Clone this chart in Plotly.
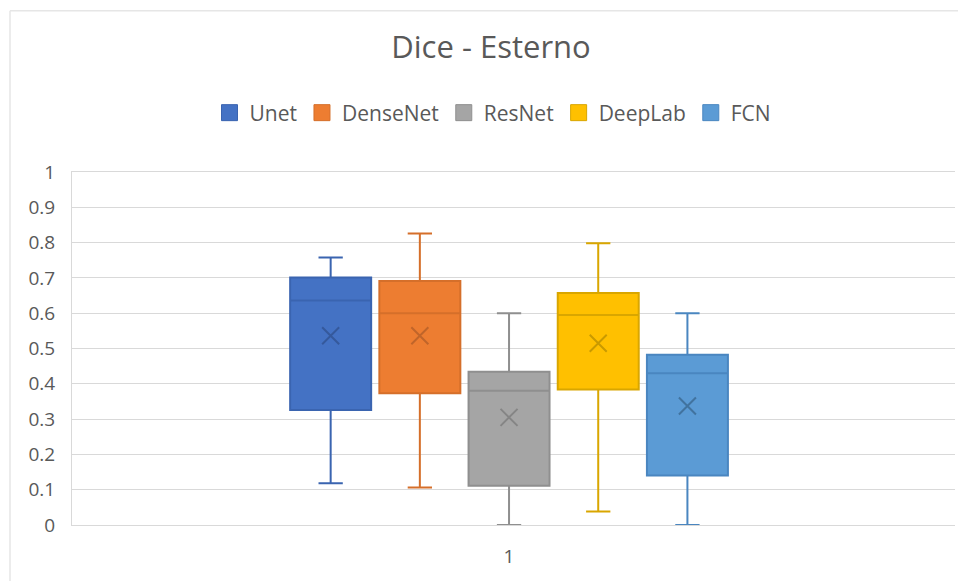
import numpy as np
import plotly.graph_objects as go

# Box-plot statistics of the Dice score per model
categories = ["1"]
models = ["Unet", "DenseNet", "ResNet", "DeepLab", "FCN"]
q1 = [0.326, 0.373, 0.111, 0.384, 0.140]
median = [0.636, 0.600, 0.380, 0.595, 0.430]
q3 = [0.701, 0.691, 0.434, 0.657, 0.482]
lower = [0.118, 0.106, 0.0, 0.038, 0.0]
upper = [0.758, 0.826, 0.600, 0.798, 0.600]
mean = [0.536, 0.536, 0.305, 0.515, 0.337]

fills = ["#4472C4", "#ED7D31", "#A5A5A5", "#FFC000", "#5B9BD5"]
edges = ["#3A64B0", "#D56F2A", "#8F8F8F", "#D9A600", "#4A86C0"]
marks = ["#35599C", "#C0652A", "#858585", "#C99A00", "#41739F"]

GRID = "#D9D9D9"
TEXT = "#595959"
FONT = "Open Sans"

n = len(models)
offsets = np.arange(n) - (n - 1) / 2
box_w = 0.908

fig = go.Figure()
for i, name in enumerate(models):
    fig.add_trace(go.Box(
        x=[offsets[i]], q1=[q1[i]], median=[median[i]], q3=[q3[i]],
        lowerfence=[lower[i]], upperfence=[upper[i]],
        boxmean=False, boxpoints=False,
        width=box_w, whiskerwidth=0.3,
        fillcolor=fills[i], line=dict(color=edges[i], width=2),
        name=name, legendgroup=name, showlegend=False, hoverinfo="skip",
    ))
    # mean marker
    fig.add_trace(go.Scatter(
        x=[offsets[i]], y=[mean[i]], mode="markers",
        marker=dict(symbol="x-thin", size=17, line=dict(color=marks[i], width=2)),
        legendgroup=name, showlegend=False, hoverinfo="skip",
    ))
    # legend swatch
    fig.add_trace(go.Scatter(
        x=[None], y=[None], mode="markers", name=name, legendgroup=name,
        marker=dict(symbol="square", size=16, color=fills[i],
                    line=dict(color=edges[i], width=1)),
    ))

# thin chart-area frame on the left and top
L, R, T, B = 72, 955, 171.5, 525
def px_x(p):
    return (p - L) / (R - L)
def px_y(p):
    return (B - p) / (B - T)
fig.add_shape(type="line", xref="paper", yref="paper",
              x0=px_x(10), x1=px_x(10), y0=px_y(10), y1=px_y(600),
              line=dict(color="#E6E6E6", width=1.5))
fig.add_shape(type="line", xref="paper", yref="paper",
              x0=px_x(10), x1=px_x(970), y0=px_y(10), y1=px_y(10),
              line=dict(color="#E6E6E6", width=1.5))

fig.update_layout(
    width=958, height=581,
    margin=dict(l=L, r=958 - R, t=T, b=581 - B),
    paper_bgcolor="white", plot_bgcolor="white",
    font=dict(family=FONT, color=TEXT, size=19),
    title=dict(text="Dice - Esterno", xref="container", yref="container",
               x=491 / 958, y=1 - 47 / 581, xanchor="center", yanchor="middle",
               font=dict(size=31, color=TEXT, family=FONT)),
    legend=dict(orientation="h", xref="container", yref="container",
                x=493 / 958, y=1 - 113 / 581, xanchor="center", yanchor="middle",
                font=dict(size=21, color=TEXT), itemwidth=30,
                bgcolor="rgba(0,0,0,0)"),
    showlegend=True,
    xaxis=dict(range=[-4.9, 5.0], tickvals=[0], ticktext=categories,
               showgrid=False, zeroline=False, showline=True, mirror=True,
               linecolor=GRID, linewidth=1, ticks="",
               ticklabelstandoff=14,
               tickfont=dict(size=19, color=TEXT)),
    yaxis=dict(range=[0, 1], dtick=0.1, showgrid=True, gridcolor=GRID,
               gridwidth=1, zeroline=False, showline=True, linecolor=GRID,
               linewidth=1, ticks="", tickfont=dict(size=19, color=TEXT),
               ticklabelstandoff=12),
)

fig.write_html("out.html")
